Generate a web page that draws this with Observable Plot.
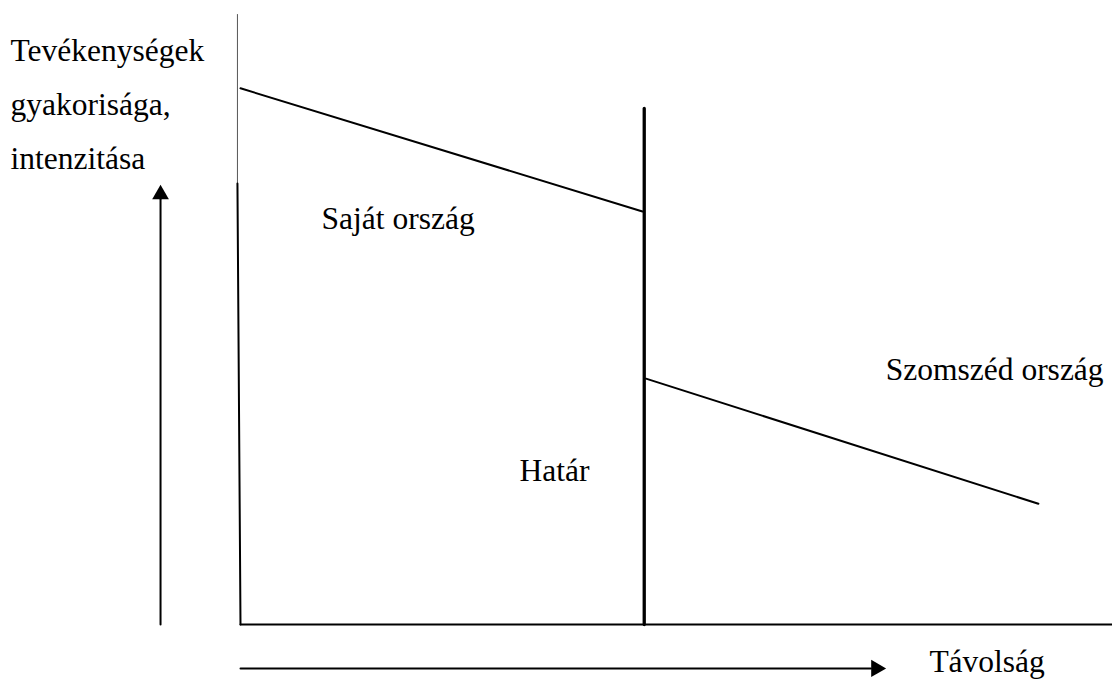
<!DOCTYPE html>
<html>
<head>
<meta charset="utf-8">
<script src="https://cdn.jsdelivr.net/npm/d3@7"></script>
<script src="https://cdn.jsdelivr.net/npm/@observablehq/plot@0.6"></script>
<style>
  html, body { margin: 0; padding: 0; background: #fff; }
  #chart svg { display: block; }
  #chart svg text { font-family: "Liberation Serif", "DejaVu Serif", serif !important; }
</style>
</head>
<body>
<div id="chart"></div>
<script>
// Abstract units: distance (x) 0..10, intensity (y) 0..10
const ownDist = [0, 4.61];
const ownIntensity = [8.79, 6.77];
const neighDist = [4.65, 9.15];
const neighIntensity = [4.03, 1.98];
const borderDist = [4.63, 4.63];
const borderIntensity = [0, 8.46];
const axisYDist = [-0.035, -0.035, 0];
const axisYIntensity = [10, 7.23, 0];
const axisXDist = [0, 10];
const axisXIntensity = [0, 0];
const upArrowDist = -0.917;
const upArrowIntensity = [0, 7.05];
const rightArrowDist = [0, 7.29];
const rightArrowIntensity = -0.72;

const labelTexts = ["Tevékenységek\ngyakorisága,\nintenzitása", "Saját ország", "Szomszéd ország", "Határ", "Távolság"];
const labelDist = [-2.638, 0.93, 7.40, 3.20, 7.90];
const labelIntensity = [8.64, 6.77, 4.30, 2.64, -0.49];

const pts = (xs, ys) => xs.map((x, i) => ({x, y: ys[i]}));
const labels = labelTexts.map((t, i) => ({t, x: labelDist[i], y: labelIntensity[i]}));

const chart = Plot.plot({
  width: 1112,
  height: 679,
  marginLeft: 240,
  marginRight: 0,
  marginTop: 14,
  marginBottom: 55,
  x: {domain: [0, 10], axis: null},
  y: {domain: [0, 10], axis: null},
  style: {background: "#fff", color: "#000", fontFamily: "'Liberation Serif', 'DejaVu Serif', serif"},
  marks: [
    Plot.line(pts(axisYDist.slice(0, 2), axisYIntensity.slice(0, 2)), {x: "x", y: "y", stroke: "#555", strokeWidth: 1}),
    Plot.line(pts(axisYDist.slice(1), axisYIntensity.slice(1)), {x: "x", y: "y", stroke: "#000", strokeWidth: 2}),
    Plot.line(pts(axisXDist, axisXIntensity), {x: "x", y: "y", stroke: "#000", strokeWidth: 2}),
    Plot.line(pts(ownDist, ownIntensity), {x: "x", y: "y", stroke: "#000", strokeWidth: 2}),
    Plot.line(pts(borderDist, borderIntensity), {x: "x", y: "y", stroke: "#000", strokeWidth: 3.3}),
    Plot.line(pts(neighDist, neighIntensity), {x: "x", y: "y", stroke: "#000", strokeWidth: 2}),
    Plot.line(pts([upArrowDist, upArrowDist], [upArrowIntensity[0], upArrowIntensity[1] - 0.08]), {x: "x", y: "y", stroke: "#000", strokeWidth: 2}),
    Plot.dot([{x: upArrowDist, y: upArrowIntensity[1]}], {x: "x", y: "y", symbol: "triangle", r: 6.2, fill: "#000", stroke: "none"}),
    Plot.line(pts([rightArrowDist[0], rightArrowDist[1] - 0.06], [rightArrowIntensity, rightArrowIntensity]), {x: "x", y: "y", stroke: "#000", strokeWidth: 2}),
    Plot.dot([{x: rightArrowDist[1], y: rightArrowIntensity}], {x: "x", y: "y", symbol: "triangle", r: 6.4, rotate: 90, fill: "#000", stroke: "none"}),
    Plot.text(labels, {x: "x", y: "y", text: "t", textAnchor: "start", lineAnchor: "middle", lineHeight: 1.72, fontSize: 31.5, fill: "#000"})
  ]
});
document.getElementById("chart").append(chart);
</script>
</body>
</html>
